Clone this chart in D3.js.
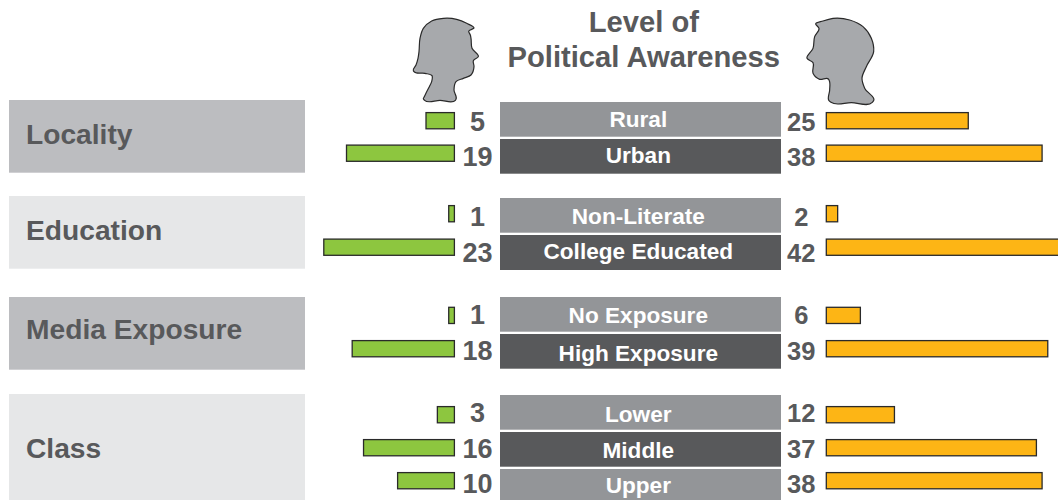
<!DOCTYPE html>
<html><head><meta charset="utf-8">
<script src="https://cdn.jsdelivr.net/npm/d3@7/dist/d3.min.js"></script>
<style>html,body{margin:0;padding:0;background:#fff;overflow:hidden}svg{display:block}text{font-family:"Liberation Sans",Arial,sans-serif;font-weight:700}</style>
</head><body><svg id="c" width="1058" height="500"></svg>
<script>
const categories = ["Rural","Urban","Non-Literate","College Educated","No Exposure","High Exposure","Lower","Middle","Upper"];
const women = [5,19,1,23,1,18,3,16,10];
const men = [25,38,2,42,6,39,12,37,38];
const groups = ["Locality","Education","Media Exposure","Class"];
const titleLines = ["Level of","Political Awareness"];
const emphasised = ["Urban","College Educated","High Exposure","Middle"];

const svg = d3.select("#c");
const ord = r => d3.scaleOrdinal().domain(categories).range(r);
const rowY = ord([102,139,198,235,297,334,395,432,469]);
const rowH = ord([34.7,34.7,34.7,35,34.7,34.7,34.7,34.7,31]);
const labelBase = ord([126.7,162.7,224,258.7,322.7,360.7,422,457.7,492.7]);
const valueBase = ord([130.7,165.7,226,261.7,324.3,360,421.7,457.7,493.3]);
const barTop = ord([112,144.5,205,238.5,306.7,340,406,439,472]);
const gOrd = r => d3.scaleOrdinal().domain(groups).range(r);
const panelY = gOrd([100,196,297,394]);
const panelH = gOrd([72.7,72.7,72.7,106]);
const panelBase = gOrd([144.3,240,339.3,458]);
const panelFill = gOrd(["#bcbdc0","#e6e7e8","#bcbdc0","#e6e7e8"]);
const barW = d3.scaleLinear().domain([0,42]).range([0,238.5]);
const leftX = 454.4, rightX = 826.3, barH = 16.2, sw = 1.3;
const dark = "#58595b", mid = "#939598", edge = "#2a2a2a";

groups.forEach(g=>{
  svg.append("rect").attr("x",9).attr("y",panelY(g)).attr("width",296).attr("height",panelH(g)).attr("fill",panelFill(g));
  svg.append("text").attr("x",26).attr("y",panelBase(g)).attr("font-size",28.2).attr("fill",dark).text(g);
});

categories.forEach((c,i)=>{
  const y = rowY(c), h = rowH(c), by = barTop(c)+0.6;
  svg.append("rect").attr("x",500).attr("y",y).attr("width",281).attr("height",h)
    .attr("fill",emphasised.includes(c)?dark:mid);
  svg.append("text").attr("x",638.3).attr("y",labelBase(c)).attr("text-anchor","middle").attr("font-size",22.6)
    .attr("fill","#fff").text(c);
  const wl = barW(women[i]), ml = barW(men[i]);
  svg.append("rect").attr("x",leftX-wl).attr("y",by).attr("width",wl).attr("height",barH)
    .attr("fill","#8dc63f").attr("stroke",edge).attr("stroke-width",sw);
  svg.append("rect").attr("x",rightX).attr("y",by).attr("width",ml).attr("height",barH)
    .attr("fill","#fdb515").attr("stroke",edge).attr("stroke-width",sw);
  svg.append("text").attr("x",477.5).attr("y",valueBase(c)).attr("text-anchor","middle").attr("font-size",27)
    .attr("fill",dark).text(women[i]);
  svg.append("text").attr("x",801.3).attr("y",valueBase(c)).attr("text-anchor","middle").attr("font-size",25.5)
    .attr("fill",dark).text(men[i]);
});

svg.selectAll(".title").data(titleLines).join("text").attr("class","title")
  .attr("x",643.8).attr("y",(d,i)=>i?66.7:32.3).attr("text-anchor","middle").attr("font-size",29.2)
  .attr("fill",dark).text(d=>d);

// Silhouettes, traced in a 3x grid
const woman = [[40,266],[42,262],[50,245],[58,230],[65,215],[66,197],[45,190],[12,185],[10,182],[18,165],[24,145],[27,125],[30,85],[40,55],[65,33],[100,25],[140,28],[170,40],[192,54],[176,64],[181,75],[183,85],[186,115],[205,140],[190,152],[192,170],[183,195],[160,205],[138,215],[132,240],[138,268],[136,271],[90,271],[44,271]];
const man = [[212,272],[208,277],[145,278],[84,277],[78,272],[80,240],[78,210],[76,207],[50,208],[30,190],[30,158],[12,145],[30,115],[35,80],[48,55],[38,42],[60,33],[90,25],[140,30],[180,50],[205,85],[212,125],[190,170],[177,205],[185,235]];
const head = d3.line().curve(d3.curveCatmullRomClosed.alpha(1));
[[woman,410],[man,803]].forEach(([p,x])=>svg.append("path")
  .attr("transform",`translate(${x},10) scale(${1/3})`)
  .attr("d",head(p)).attr("fill","#a7a9ac").attr("stroke",edge).attr("stroke-width",3.6));
</script></body></html>
